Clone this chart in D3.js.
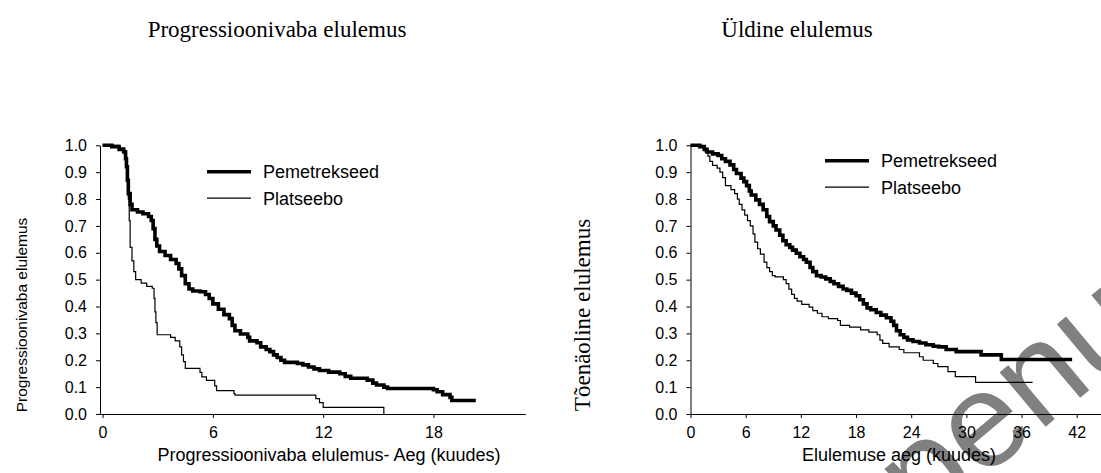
<!DOCTYPE html>
<html>
<head>
<meta charset="utf-8">
<script src="https://cdn.jsdelivr.net/npm/d3@7"></script>
<style>
  body { margin: 0; background: #fff; }
  svg { display: block; }
  .tick text { font-family: "Liberation Sans", Arial, sans-serif; font-size: 16px; fill: #000; }
  .tick line, .domain { stroke: #000; }
</style>
</head>
<body>
<div id="chart"></div>
<script>
// Kaplan-Meier curves, [month, probability]
var pfsPemetrekseed = [[0,1.0],[0.5,0.995],[0.9,0.985],[1.15,0.975],[1.25,0.95],[1.3,0.92],[1.35,0.87],[1.4,0.82],
  [1.5,0.78],[1.6,0.76],[1.9,0.752],[2.2,0.745],[2.5,0.735],[2.65,0.72],[2.75,0.69],[2.85,0.65],[2.95,0.625],
  [3.1,0.605],[3.4,0.59],[3.7,0.575],[4.0,0.56],[4.15,0.54],[4.3,0.515],[4.5,0.485],[4.7,0.465],[4.9,0.458],
  [5.3,0.455],[5.6,0.445],[5.8,0.43],[6.0,0.41],[6.3,0.39],[6.6,0.37],[6.9,0.355],[7.05,0.33],[7.2,0.31],
  [7.5,0.298],[7.9,0.285],[8.0,0.272],[8.4,0.265],[8.6,0.25],[8.9,0.24],[9.1,0.232],[9.3,0.22],[9.5,0.21],
  [9.7,0.2],[9.9,0.192],[10.6,0.188],[10.9,0.183],[11.2,0.175],[11.5,0.168],[11.8,0.162],[12.3,0.156],
  [12.9,0.15],[13.2,0.14],[13.5,0.133],[14.4,0.126],[14.7,0.115],[14.9,0.108],[15.3,0.1],[15.5,0.095],
  [18.0,0.09],[18.2,0.083],[18.5,0.072],[18.9,0.062],[19.0,0.05],[20.3,0.05]];

var pfsPlatseebo = [[0,1.0],[0.9,0.99],[1.2,0.98],[1.3,0.95],[1.35,0.9],[1.4,0.8],[1.45,0.72],[1.5,0.62],
  [1.6,0.57],[1.7,0.53],[1.8,0.5],[2.1,0.487],[2.4,0.475],[2.7,0.468],[2.8,0.43],[2.85,0.38],[2.9,0.34],
  [2.97,0.295],[3.7,0.285],[3.95,0.272],[4.2,0.25],[4.3,0.22],[4.4,0.195],[4.5,0.17],[5.3,0.155],[5.4,0.138],
  [5.65,0.125],[6.1,0.105],[6.2,0.087],[7.15,0.076],[7.2,0.07],[11.6,0.057],[11.8,0.042],[12.0,0.025],[15.3,0]];

var osPemetrekseed = [[0,1.0],[1.0,0.995],[1.5,0.985],[1.8,0.975],[2.4,0.968],[3.0,0.962],[3.4,0.95],[3.8,0.94],
  [4.3,0.927],[4.7,0.91],[5.0,0.895],[5.5,0.878],[5.8,0.865],[6.1,0.85],[6.4,0.83],[6.6,0.815],[7.1,0.797],
  [7.5,0.78],[7.9,0.76],[8.3,0.735],[8.6,0.716],[9.0,0.7],[9.3,0.685],[9.7,0.665],[10.05,0.645],[10.4,0.63],
  [10.8,0.62],[11.1,0.61],[11.5,0.598],[11.9,0.585],[12.3,0.575],[12.6,0.565],[13.0,0.545],[13.3,0.53],
  [13.7,0.515],[14.2,0.51],[14.7,0.503],[15.2,0.493],[15.6,0.485],[16.1,0.475],[16.6,0.465],[17.0,0.46],
  [17.5,0.45],[18.0,0.44],[18.4,0.425],[18.8,0.41],[19.2,0.395],[19.6,0.388],[20.2,0.378],[20.7,0.368],
  [21.3,0.358],[21.8,0.345],[22.1,0.33],[22.4,0.31],[22.8,0.295],[23.2,0.285],[23.6,0.276],[24.2,0.27],
  [24.9,0.264],[25.6,0.258],[26.4,0.252],[27.0,0.25],[27.8,0.24],[28.9,0.232],[31.6,0.22],[33.8,0.203],[41.5,0.203]];

var osPlatseebo = [[0,1.0],[1.3,0.99],[1.6,0.975],[1.9,0.96],[2.1,0.94],[2.4,0.925],[2.9,0.915],[3.2,0.9],
  [3.5,0.88],[3.8,0.85],[4.4,0.835],[4.8,0.82],[5.1,0.8],[5.3,0.78],[5.6,0.76],[5.9,0.74],[6.2,0.72],[6.5,0.7],
  [6.8,0.67],[7.0,0.64],[7.3,0.615],[7.6,0.595],[8.0,0.565],[8.3,0.545],[8.6,0.53],[8.9,0.515],[9.2,0.51],
  [10.1,0.5],[10.4,0.485],[10.7,0.465],[11.0,0.445],[11.3,0.43],[11.6,0.42],[12.1,0.408],[12.9,0.398],
  [13.3,0.385],[13.8,0.375],[14.3,0.362],[15.0,0.355],[16.0,0.348],[16.3,0.33],[17.3,0.323],[18.5,0.313],
  [19.4,0.305],[20.3,0.295],[20.6,0.275],[20.9,0.263],[21.6,0.25],[22.7,0.24],[23.2,0.228],[24.9,0.213],
  [25.3,0.2],[26.4,0.188],[26.9,0.176],[28.0,0.158],[28.8,0.139],[31.0,0.118],[37.2,0.118]];

var seriesNames = ["Pemetrekseed", "Platseebo"];
var yTicks = [0, 0.1, 0.2, 0.3, 0.4, 0.5, 0.6, 0.7, 0.8, 0.9, 1.0];
var pfsTicks = [0, 6, 12, 18];
var osTicks = [0, 6, 12, 18, 24, 30, 36, 42];

var svgWidth = 1101;
var svgHeight = 473;
var sans = '"Liberation Sans", Arial, sans-serif';
var serif = '"Liberation Serif", "Times New Roman", serif';

var svg = d3.select("#chart")
  .append("svg")
  .attr("width", svgWidth)
  .attr("height", svgHeight);

// watermark, sits behind the chart
svg.append("text")
  .attr("transform", "translate(1211,288) rotate(-40)")
  .attr("text-anchor", "end")
  .attr("font-family", sans)
  .attr("font-size", 135)
  .attr("fill", "#808080")
  .text("Ravimil on müügiluba lõppenud");

var yScale = d3.scaleLinear().domain([0, 1]).range([414, 145.3]);

function drawPanel(opts) {
  var x = d3.scaleLinear().domain(opts.domain).range(opts.range);
  var g = svg.append("g");

  g.append("g")
    .attr("transform", "translate(0,414)")
    .call(d3.axisBottom(x).tickValues(opts.ticks).tickSize(4).tickSizeOuter(0).tickPadding(9));

  g.append("g")
    .attr("transform", `translate(${opts.range[0]},0)`)
    .call(d3.axisLeft(yScale).tickValues(yTicks).tickFormat(d3.format(".1f")).tickSize(4).tickSizeOuter(0).tickPadding(9));

  var line = d3.line()
    .x(d => x(d[0]))
    .y(d => yScale(d[1]))
    .curve(d3.curveStepAfter);

  g.append("path").datum(opts.placebo)
    .attr("d", line).attr("fill", "none").attr("stroke", "#000").attr("stroke-width", 1.2);
  g.append("path").datum(opts.pem)
    .attr("d", line).attr("fill", "none").attr("stroke", "#000").attr("stroke-width", 3.6);

  // legend
  seriesNames.forEach(function(name, i) {
    var ly = opts.legendY + i * 26.5;
    g.append("line")
      .attr("x1", opts.legendX).attr("x2", opts.legendX + 44)
      .attr("y1", ly).attr("y2", ly)
      .attr("stroke", "#000").attr("stroke-width", i == 0 ? 3.6 : 1.2);
    g.append("text")
      .attr("x", opts.legendX + 56).attr("y", ly + 6.5)
      .attr("font-family", sans).attr("font-size", 18)
      .text(name);
  });

  // titles and axis labels
  g.append("text")
    .attr("x", opts.titleX).attr("y", 37)
    .attr("text-anchor", "middle")
    .attr("font-family", serif).attr("font-size", 23)
    .text(opts.title);

  g.append("text")
    .attr("x", opts.xLabelX).attr("y", 461)
    .attr("text-anchor", "middle")
    .attr("font-family", sans).attr("font-size", 18)
    .text(opts.xLabel);

  g.append("text")
    .attr("transform", `translate(${opts.yLabelX},315) rotate(-90)`)
    .attr("text-anchor", "middle")
    .attr("font-family", opts.yLabelFont).attr("font-size", opts.yLabelSize)
    .text(opts.yLabel);
}

drawPanel({
  domain: [-0.14, 23], range: [100, 525.4], ticks: pfsTicks,
  pem: pfsPemetrekseed, placebo: pfsPlatseebo,
  legendX: 207, legendY: 171.7,
  title: "Progressioonivaba elulemus", titleX: 277,
  xLabel: "Progressioonivaba elulemus- Aeg (kuudes)", xLabelX: 329,
  yLabel: "Progressioonivaba elulemus", yLabelX: 27, yLabelFont: sans, yLabelSize: 15.5
});

drawPanel({
  domain: [0, 48], range: [690.5, 1131.9], ticks: osTicks,
  pem: osPemetrekseed, placebo: osPlatseebo,
  legendX: 825, legendY: 160.7,
  title: "Üldine elulemus", titleX: 797,
  xLabel: "Elulemuse aeg (kuudes)", xLabelX: 899,
  yLabel: "Tõenäoline elulemus", yLabelX: 590, yLabelFont: serif, yLabelSize: 23
});
</script>
</body>
</html>
